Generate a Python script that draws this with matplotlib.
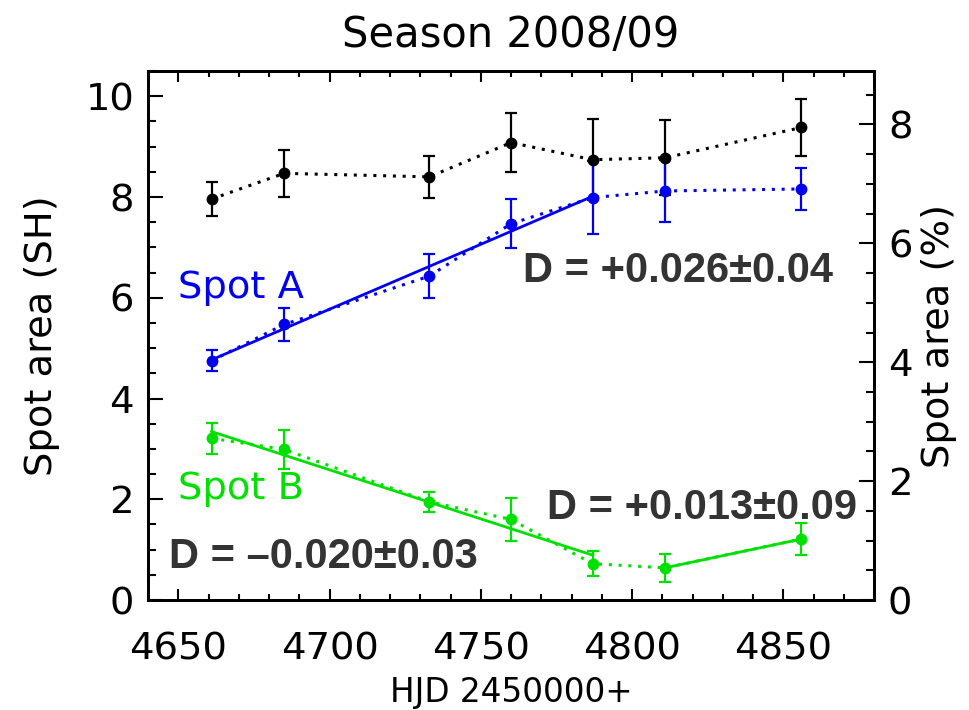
import numpy as np
import matplotlib
matplotlib.use("Agg")
from matplotlib import pyplot as plt
from matplotlib.ticker import MultipleLocator

# Season 2008/09 spot areas (SH)
hjd = [4661, 4685, 4733, 4760, 4787, 4811, 4856]
total_area = [7.96, 8.47, 8.40, 9.08, 8.74, 8.78, 9.38]
total_err = [0.34, 0.47, 0.42, 0.58, 0.80, 0.74, 0.56]
spot_a = [4.75, 5.47, 6.43, 7.47, 7.99, 8.12, 8.16]
spot_a_err = [0.21, 0.32, 0.43, 0.49, 0.72, 0.61, 0.41]
spot_b = [3.21, 2.99, 1.95, 1.60, 0.72, 0.64, 1.21]
spot_b_err = [0.31, 0.39, 0.20, 0.43, 0.25, 0.28, 0.32]

# index ranges used for the linear fits
fit_a = [(0, 5)]
fit_b = [(0, 5), (5, 7)]

# D labels: text, x, y (baseline)
d_labels = [
    ("D = +0.026\u00b10.04", 4764, 6.31),
    ("D = +0.013\u00b10.09", 4772, 1.60),
    ("D = \u20130.020\u00b10.03", 4647, 0.63),
]

SH_PER_PERCENT = 1.18
BLUE = "#0000ee"
GREEN = "#00e000"
TXT = 27.7

plt.rcParams["font.family"] = ["DejaVu Sans"]
plt.rcParams["font.size"] = TXT

fig = plt.figure(figsize=(9.7, 7.1), dpi=100)
ax = fig.add_axes([0.1526, 0.1549, 0.7485, 0.745])


def draw_series(x, y, err, color, fits):
    """Dotted line through the points with error bars, plus solid fit lines."""
    ax.errorbar(x, y, yerr=err, color=color, fmt="o", ms=7.5, elinewidth=1.6,
                capsize=4, capthick=1.6, zorder=3)
    ax.plot(x, y, color=color, lw=2.2, ls=(0, (1, 2.2)), zorder=2)
    for lo, hi in fits:
        xs = np.array(x[lo:hi], dtype=float)
        ys = np.array(y[lo:hi], dtype=float)
        k, b = np.polyfit(xs, ys, 1)
        ends = np.array([xs[0], xs[-1]])
        ax.plot(ends, k * ends + b, color=color, lw=2, zorder=2.5)


draw_series(hjd, total_area, total_err, "black", [])
draw_series(hjd, spot_a, spot_a_err, BLUE, fit_a)
draw_series(hjd, spot_b, spot_b_err, GREEN, fit_b)

ax.text(4650, 6.0, "Spot A", color=BLUE, fontsize=TXT, va="baseline")
ax.text(4650, 2.0, "Spot B", color=GREEN, fontsize=TXT, va="baseline")
for txt, x, y in d_labels:
    ax.text(x, y, txt, color="#333333", fontsize=30, fontweight="bold",
            family="Liberation Sans", va="baseline", zorder=5)

ax.set_xlim(4640, 4880)
ax.set_ylim(0, 10.5)
ax.xaxis.set_major_locator(MultipleLocator(50))
ax.xaxis.set_minor_locator(MultipleLocator(10))
ax.yaxis.set_major_locator(MultipleLocator(2))
ax.yaxis.set_minor_locator(MultipleLocator(0.5))
ax.tick_params(axis="x", which="both", direction="in", top=True, bottom=True,
               width=1.5, pad=23, labelsize=TXT)
ax.tick_params(axis="x", which="major", length=8)
ax.tick_params(axis="x", which="minor", length=4)
ax.tick_params(axis="y", which="both", direction="in", left=True, right=False,
               width=1.5, pad=10, labelsize=TXT)
ax.tick_params(axis="y", which="major", length=11)
ax.tick_params(axis="y", which="minor", length=5.5)
for sp in ax.spines.values():
    sp.set_linewidth(2)

ax2 = ax.twinx()
ax2.set_ylim(0, 10.5 / SH_PER_PERCENT)
ax2.yaxis.set_major_locator(MultipleLocator(2))
ax2.yaxis.set_minor_locator(MultipleLocator(0.5))
ax2.tick_params(axis="y", which="both", direction="in", width=1.5, pad=10,
                labelsize=TXT)
ax2.tick_params(axis="y", which="major", length=11)
ax2.tick_params(axis="y", which="minor", length=5.5)
for sp in ax2.spines.values():
    sp.set_linewidth(2)

ax.set_title("Season 2008/09", fontsize=30, pad=17)
ax.set_xlabel("HJD 2450000+", fontsize=23.5)
ax.set_ylabel("Spot area (SH)", fontsize=TXT)
ax2.set_ylabel("Spot area (%)", fontsize=TXT)
ax.yaxis.set_label_coords(-0.121, 0.5)
ax2.yaxis.set_label_coords(1.065, 0.5)
ax.xaxis.set_label_coords(0.5, -0.143)

fig.savefig("out.png", dpi=100)
